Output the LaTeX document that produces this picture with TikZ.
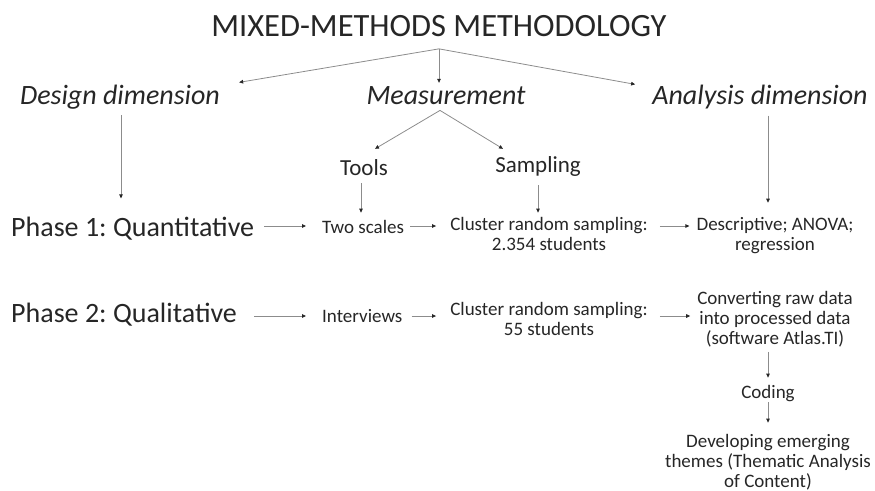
\documentclass[tikz,border=0pt]{standalone}
\usepackage{fontspec}
\setmainfont{Carlito}
\frenchspacing
\usetikzlibrary{arrows.meta,calc}
\begin{document}
\begin{tikzpicture}[x=1pt,y=-1pt,
  txt/.style={inner sep=0pt,text=black!85,align=center},
  titlefont/.style={txt,font=\fontsize{32.5}{36}\selectfont},
  headfont/.style={txt,font=\fontsize{28}{32}\selectfont\itshape},
  phasefont/.style={txt,font=\fontsize{28}{32}\selectfont},
  subfont/.style={txt,font=\fontsize{23}{26}\selectfont},
  smallfont/.style={txt,font=\fontsize{19}{20}\selectfont},
  arr/.style={draw=black!45,line width=0.8pt,
    -{Triangle[length=4pt,width=3.6pt,color=black!85]}}]
\useasboundingbox (0,0) rectangle (875,490);

% title and the three dimensions
\node[titlefont] (title) at (439,26) {MIXED-METHODS METHODOLOGY};
\node[headfont,anchor=base] (design) at (120,104) {Design dimension};
\node[headfont,anchor=base] (meas) at (446,104) {Measurement};
\node[headfont,anchor=base] (anal) at (760,104) {Analysis dimension};

% measurement branches
\node[subfont,anchor=base] (tools) at (364,175) {Tools};
\node[subfont,anchor=base] (samp) at (538,172) {Sampling};

% phase 1 row (multi-line nodes are placed by their last baseline)
\node[phasefont,anchor=base west] (p1) at (11,236) {Phase 1: Quantitative};
\node[smallfont,anchor=base west] (two) at (322,233) {Two scales};
\node[smallfont,anchor=base] (clu1) at (549,250) {Cluster random sampling:\\2.354 students};
\node[smallfont,anchor=base] (desc) at (775,250) {Descriptive; ANOVA;\\regression};

% phase 2 row
\node[phasefont,anchor=base west] (p2) at (11,322) {Phase 2: Qualitative};
\node[smallfont,anchor=base west] (intv) at (322,322) {Interviews};
\node[smallfont,anchor=base] (clu2) at (549,335) {Cluster random sampling:\\55 students};
\node[smallfont,anchor=base] (conv) at (775,344) {Converting raw data\\into processed data\\(software Atlas.TI)};
\node[smallfont,anchor=base] (coding) at (768,398) {Coding};
\node[smallfont,anchor=base] (dev) at (768,487) {Developing emerging\\themes (Thematic Analysis\\of Content)};

% row levels for horizontal connectors
\coordinate (row1) at (0,226);
\coordinate (row2) at (0,316);

% from the title
\coordinate (hub) at ($(title.south)+(0,12)$);
\draw[arr] (hub) -- ($(design.north east)+(19,-2)$);
\draw[arr] (hub) -- ($(hub |- meas.north)+(0,-3)$);
\draw[arr] (hub) -- ($(anal.north west)+(-17,0)$);

% from measurement
\coordinate (hub2) at ($(meas.south)+(-6,6)$);
\draw[arr] (hub2) -- ($(tools.north)+(11,-10)$);
\draw[arr] (hub2) -- ($(samp.north)+(-35,-7)$);

% vertical connectors
\draw[arr] ($(design.south)+(1,6)$) -- ($(design.south |- p1.north)+(1,-18)$);
\draw[arr] ($(tools.south)+(-3,8)$) -- ($(tools.south |- two.north)+(-3,-7)$);
\draw[arr] ($(samp.south)+(0,9)$) -- ($(samp.south |- clu1.north)+(0,-4)$);
\draw[arr] ($(anal.south)+(8,7)$) -- ($(anal.south |- desc.north)+(8,-14)$);

% phase 1 row
\draw[arr] ($(p1.east |- row1)+(10,0)$) -- ($(two.west |- row1)+(-16,0)$);
\draw[arr] ($(two.east |- row1)+(6,0)$) -- ($(clu1.west |- row1)+(-14,0)$);
\draw[arr] ($(clu1.east |- row1)+(12,0)$) -- ($(desc.west |- row1)+(-7,0)$);

% phase 2 row
\draw[arr] ($(p2.east |- row2)+(17,0)$) -- ($(intv.west |- row2)+(-16,0)$);
\draw[arr] ($(intv.east |- row2)+(9,0)$) -- ($(clu2.west |- row2)+(-14,0)$);
\draw[arr] ($(clu2.east |- row2)+(12,0)$) -- ($(conv.west |- row2)+(-7,0)$);

% qualitative analysis steps
\draw[arr] ($(conv.south -| coding.north)+(0,5)$) -- ($(coding.north)+(0,-7)$);
\draw[arr] ($(coding.south)+(0,1)$) -- ($(dev.north)+(0,-11)$);
\end{tikzpicture}
\end{document}
